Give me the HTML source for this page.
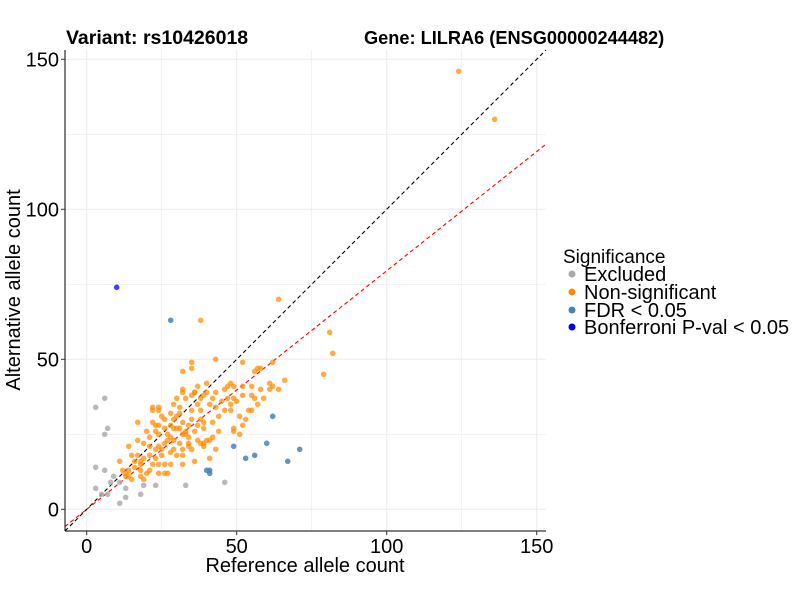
<!DOCTYPE html>
<html><head><meta charset="utf-8"><style>
body{margin:0;background:#fff;}
svg{display:block;font-family:"Liberation Sans",Arial,sans-serif;}
</style></head><body>
<svg id="chart" width="800" height="600" viewBox="0 0 800 600">
<text x="66" y="44" font-size="19.5" font-weight="bold">Variant: rs10426018</text>
<text x="364" y="44" font-size="18.2" font-weight="bold">Gene: LILRA6 (ENSG00000244482)</text>
<g id="grid"></g>
<g id="lines"></g>
<g id="points"></g>
<g id="axes"></g>
<text x="305" y="572" font-size="20" text-anchor="middle">Reference allele count</text>
<text transform="translate(20,290) rotate(-90)" font-size="20" text-anchor="middle">Alternative allele count</text>
<g>
<text x="563" y="263" font-size="19">Significance</text>
<g><circle cx="572" cy="274" r="3.5" fill="#aaaaaa"/><text x="584" y="281" font-size="20">Excluded</text></g>
<g><circle cx="572" cy="292" r="3.5" fill="#ff8c00"/><text x="584" y="299" font-size="20">Non-significant</text></g>
<g><circle cx="572" cy="310" r="3.5" fill="#4682b4"/><text x="584" y="317" font-size="20">FDR &lt; 0.05</text></g>
<g><circle cx="572" cy="327" r="3.5" fill="#0000ff"/><text x="584" y="334" font-size="20">Bonferroni P-val &lt; 0.05</text></g>
</g>
</svg>
<script>
const xTicks=[0,50,100,150];
const yTicks=[0,50,100,150];
const orangeX=[43,35,52,35,32,57,56,58,62,66,64,61,62,40,37,36,35,48,49,46,47,52,55,55,52,43,42,40,39,38,36,32,32,33,30,31,29,37,35,38,41,43,45,48,48,47,49,56,57,59,54,22,24,22,24,28,26,30,29,32,35,38,39,37,39,42,51,53,52,49,49,51,22,23,24,26,28,29,31,33,20,23,24,28,29,32,34,17,17,19,21,23,24,25,28,14,15,17,16,18,12,14,13,11,14,18,18,18,19,21,22,24,24,26,27,28,32,32,32,34,35,36,37,40,41,41,39,39,43,34,31,64,81,82,79,124,136,38,25,27,30,21,26,33,44,46,50,36,34,29,19,16,13,15,20,25,27,31,44,42,38,55,58,61,23,21,26,30];
const orangeY=[50,49,49,47,46,47,46,47,49,43,40,40,41,42,41,39,38,42,41,40,41,41,41,38,38,39,37,39,38,37,39,40,39,37,37,34,35,35,33,33,35,34,36,35,33,37,37,37,35,37,33,34,34,33,33,32,30,31,30,29,30,30,29,28,27,29,31,30,28,27,26,25,29,28,28,27,28,27,27,26,26,26,25,24,23,25,24,29,23,22,21,20,21,18,19,21,18,18,16,16,13,11,11,16,13,15,13,11,10,13,15,15,12,12,12,15,15,20,18,21,20,16,23,23,23,17,21,22,20,22,22,70,59,52,45,146,130,63,31,25,27,18,22,25,31,33,36,26,28,20,17,14,12,10,12,20,23,32,26,24,22,33,40,42,17,24,15,18];
const grayX=[3,6,7,6,3,6,3,9,8,11,5,7,13,11,13,18,19,23,33,46];
const grayY=[34,37,27,25,14,13,7,11,9,9,5,5,7,2,4,5,8,8,8,9];
const fdrX=[62,60,49,53,56,67,71,40,41,41,28];
const fdrY=[31,22,21,17,18,16,20,13,13,12,63];
const bonfX=[10];
const bonfY=[74];
const X0=86.7,XS=3.0,Y0=509.3,YS=3.0;
const L=65,R=546,T=50,B=531;
const sx=v=>X0+v*XS, sy=v=>Y0-v*YS;
const NS='http://www.w3.org/2000/svg';
function mk(tag,attrs,parent){const e=document.createElementNS(NS,tag);for(const k in attrs)e.setAttribute(k,attrs[k]);parent.appendChild(e);return e;}
const grid=document.getElementById('grid');
for(let v=0;v<=150;v+=25){
 const gx=mk('line',{x1:sx(v),x2:sx(v),y1:T,y2:B,stroke:'#ebebeb','stroke-width':v%50?0.6:1},grid);
 
 
 const gy=mk('line',{x1:L,x2:R,y1:sy(v),y2:sy(v),stroke:'#ebebeb','stroke-width':v%50?0.6:1},grid);
 
 
}
const lines=document.getElementById('lines');
const xa=(L-X0)/XS, xb=(R-X0)/XS;
const diag=mk('line',{x1:sx(xa),y1:sy(xa),x2:sx(Math.min(xb,(Y0-T)/YS)),y2:sy(Math.min(xb,(Y0-T)/YS)),stroke:'#000','stroke-width':1.1,'stroke-dasharray':'4,3'},lines);


const slope=0.795;
const red=mk('line',{x1:sx(xa),y1:sy(xa*slope),x2:sx(xb),y2:sy(xb*slope),stroke:'#ff0000','stroke-width':1.1,'stroke-dasharray':'4,3'},lines);


const pts=document.getElementById('points');
function drawSeries(xs,ys,color,op,name){
 for(let i=0;i<xs.length;i++){
  const c=mk('circle',{cx:sx(xs[i]),cy:sy(ys[i]),r:2.8,fill:color,'fill-opacity':op},pts);
  
  
 }
}
drawSeries(grayX,grayY,'#a8a8a8',0.8,'point-excluded');
drawSeries(orangeX,orangeY,'#ff8c00',0.72,'point-non-significant');
drawSeries(fdrX,fdrY,'#4682b4',0.85,'point-fdr');
drawSeries(bonfX,bonfY,'#0000ff',0.75,'point-bonferroni');
const axes=document.getElementById('axes');
const ya=mk('line',{x1:L,x2:L,y1:T,y2:B,stroke:'#000','stroke-width':1},axes);


const xl=mk('line',{x1:L,x2:R,y1:B,y2:B,stroke:'#000','stroke-width':1},axes);


xTicks.forEach(v=>{
 mk('line',{x1:sx(v),x2:sx(v),y1:B,y2:B+4,stroke:'#333'},axes);
 const t=mk('text',{x:sx(v),y:B+22,'font-size':20,'text-anchor':'middle'},axes);
 t.textContent=v;
 
 
});
yTicks.forEach(v=>{
 mk('line',{x1:L-4,x2:L,y1:sy(v),y2:sy(v),stroke:'#333'},axes);
 const t=mk('text',{x:L-6,y:sy(v)+7,'font-size':20,'text-anchor':'end'},axes);
 t.textContent=v;
 
 
});
</script>
</body></html>
